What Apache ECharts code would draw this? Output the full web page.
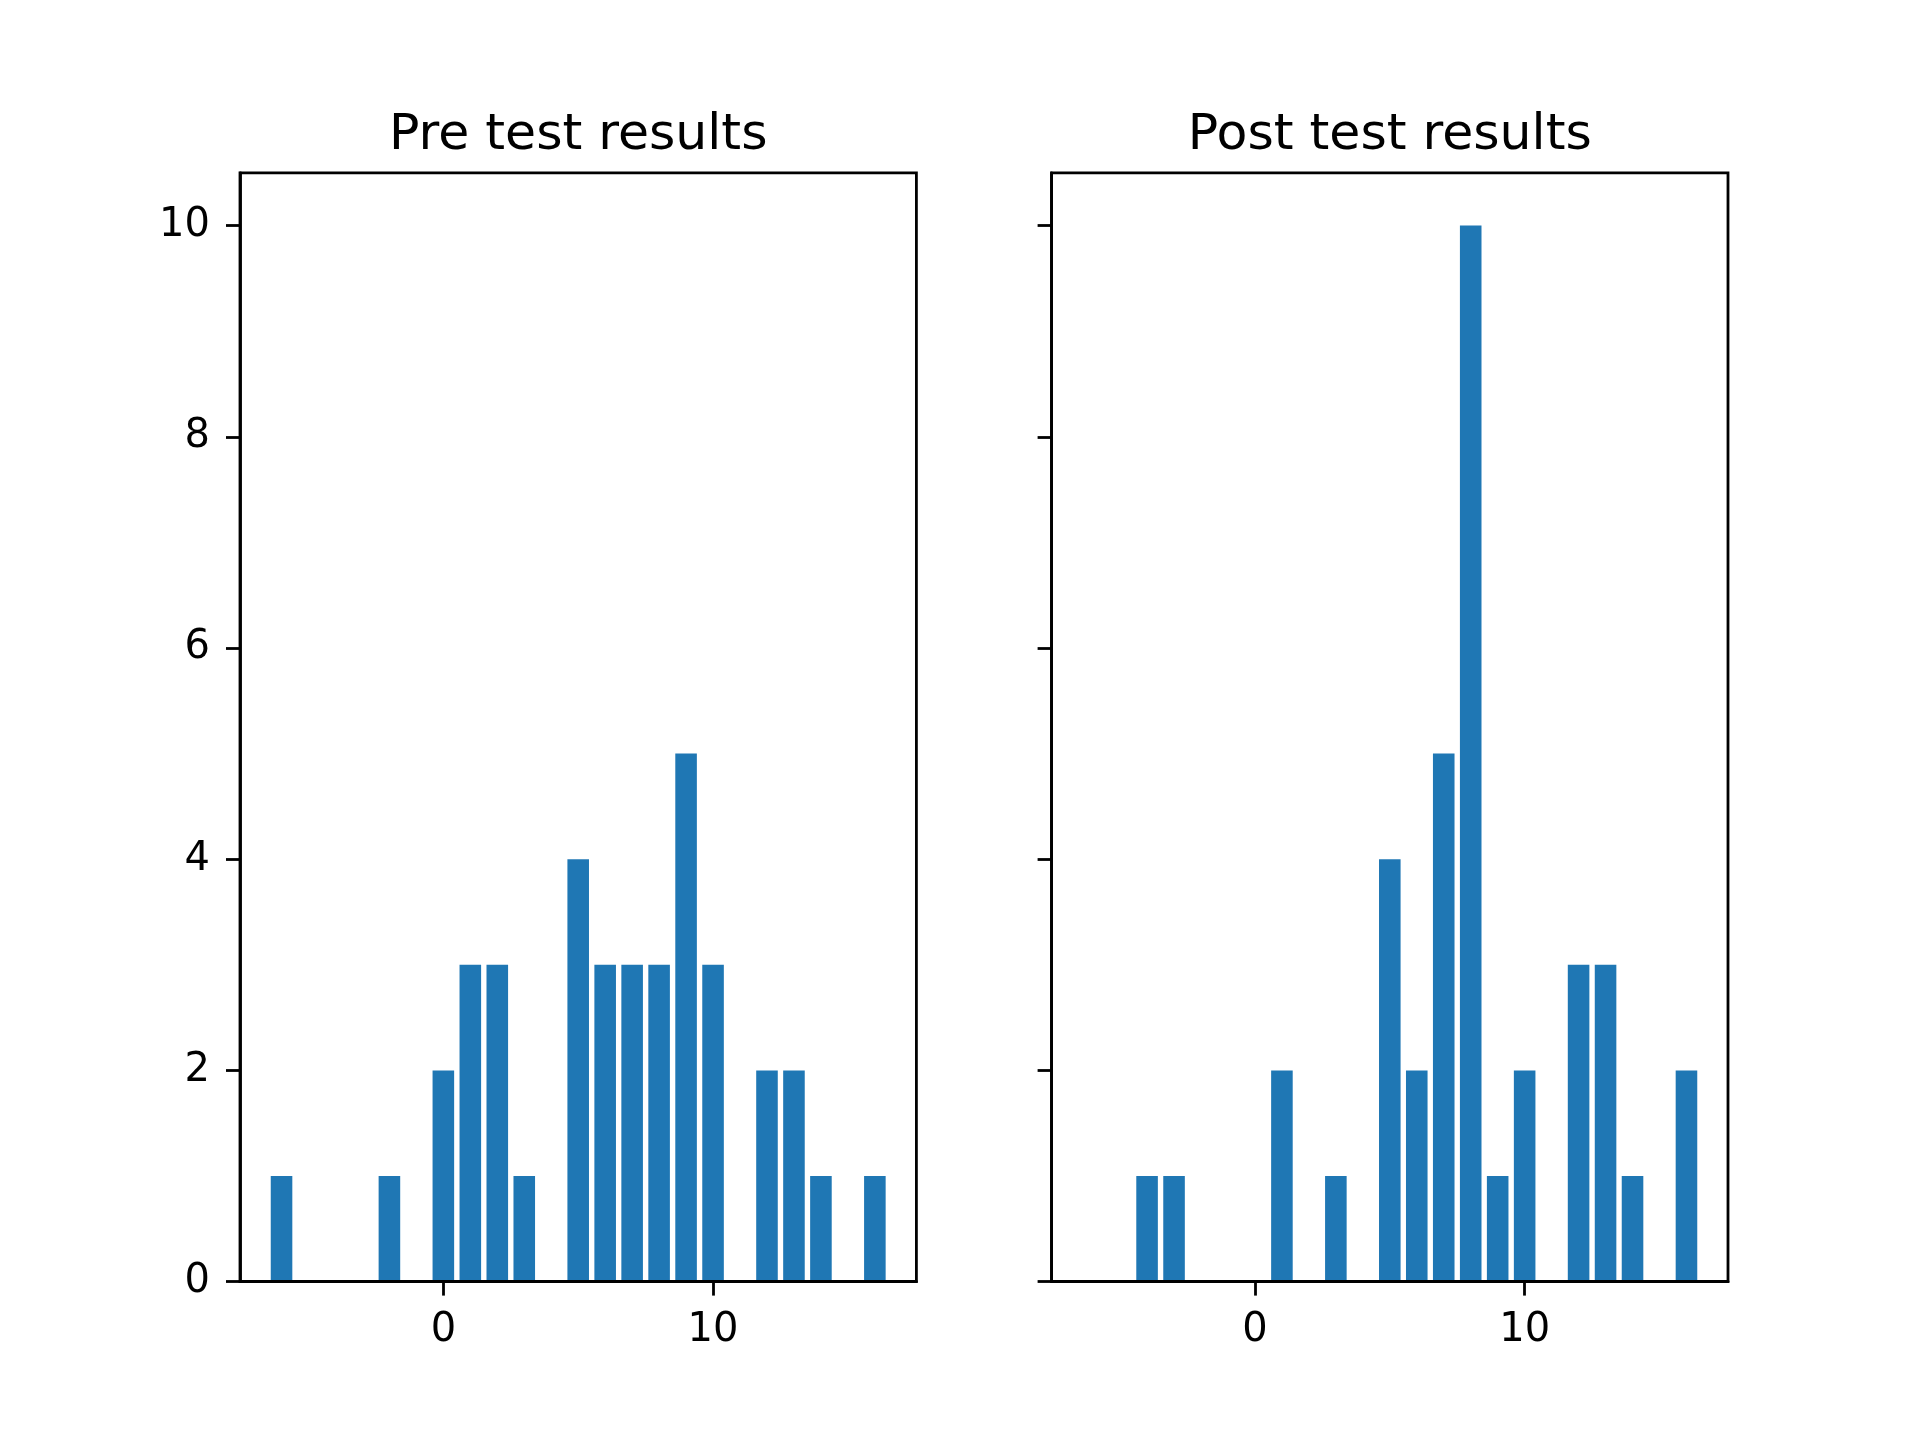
<!DOCTYPE html>
<html>
<head>
<meta charset="utf-8">
<title>Pre / Post test results</title>
<script src="https://cdn.jsdelivr.net/npm/echarts@6/dist/echarts.min.js"></script>
<style>
  html, body { margin: 0; padding: 0; background: #fff; }
  #main { width: 1920px; height: 1440px; }
</style>
</head>
<body>
<div id="main"></div>
<script>
// score change -> number of students
var preX  = [-6, -2, 0, 1, 2, 3, 5, 6, 7, 8, 9, 10, 12, 13, 14, 16];
var preY  = [ 1,  1, 2, 3, 3, 1, 4, 3, 3, 3, 5,  3,  2,  2,  1,  1];
var postX = [-4, -3, 1, 3, 5, 6, 7, 8, 9, 10, 12, 13, 14, 16];
var postY = [ 1,  1, 2, 1, 4, 2, 5, 10, 1, 2,  3,  3,  1,  2];

var titles = ['Pre test results', 'Post test results'];
var xTicks = [0, 10];
var yTicks = [0, 2, 4, 6, 8, 10];

var xMin = -7.54, xMax = 17.54;
var yMin = 0, yMax = 10.5;

// layout (matplotlib-like subplots)
var gridTop = 172.8, gridH = 1108.8, gridW = 676.4;
var gridLeft = [240, 1051.6];
var barW = 0.8 * gridW / (xMax - xMin);
var font = 'DejaVu Sans';

function pairs(xs, ys) {
  var out = [];
  for (var i = 0; i < xs.length; i++) out.push([xs[i], ys[i]]);
  return out;
}

var myChart = echarts.init(document.getElementById('main'), null, { renderer: 'canvas' });

var grids = [], xAxes = [], yAxes = [], series = [], texts = [];
var sets = [[preX, preY], [postX, postY]];

for (var k = 0; k < 2; k++) {
  grids.push({
    left: gridLeft[k], top: gridTop, width: gridW, height: gridH,
    show: true, borderColor: '#000', borderWidth: 2.8, backgroundColor: 'transparent',
    containLabel: false
  });
  xAxes.push({
    type: 'value', gridIndex: k, min: xMin, max: xMax, z: 10,
    axisLine: { show: true, onZero: false, lineStyle: { color: '#000', width: 2.8 } },
    axisTick: { show: true, inside: false, length: 14, customValues: xTicks,
                lineStyle: { color: '#000', width: 2.8 } },
    axisLabel: { show: true, customValues: xTicks, margin: 29, color: '#000',
                 fontSize: 40, fontFamily: font },
    splitLine: { show: false }
  });
  yAxes.push({
    type: 'value', gridIndex: k, min: yMin, max: yMax, z: 10,
    axisLine: { show: true, onZero: false, lineStyle: { color: '#000', width: 2.8 } },
    axisTick: { show: true, inside: false, length: 14, customValues: yTicks,
                lineStyle: { color: '#000', width: 2.8 } },
    axisLabel: { show: k === 0, customValues: yTicks, margin: 30, color: '#000',
                 fontSize: 40, fontFamily: font, padding: [7, 0, 0, 0] },
    splitLine: { show: false }
  });
  series.push({
    name: titles[k], type: 'bar', xAxisIndex: k, yAxisIndex: k,
    barWidth: barW,
    itemStyle: { color: '#1f77b4' },
    data: pairs(sets[k][0], sets[k][1])
  });
  texts.push({
    type: 'text',
    x: gridLeft[k] + gridW / 2, y: 135.5,
    style: { text: titles[k], fill: '#000', font: '50.5px "DejaVu Sans"',
             textAlign: 'center', textVerticalAlign: 'middle' }
  });
}

var option = {
  backgroundColor: '#fff',
  animation: false,
  grid: grids,
  xAxis: xAxes,
  yAxis: yAxes,
  series: series,
  graphic: texts
};

myChart.setOption(option);
</script>
</body>
</html>
